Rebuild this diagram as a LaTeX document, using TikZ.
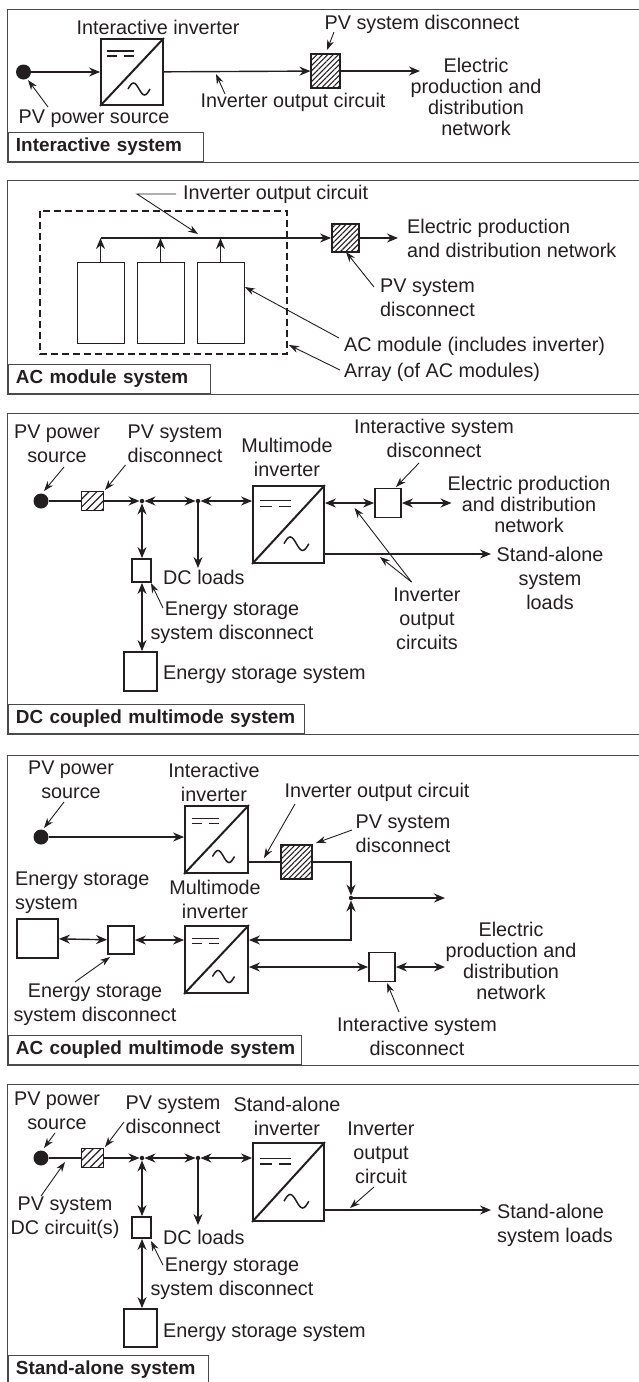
\documentclass[tikz,border=0pt]{standalone}
\usepackage{fontspec}
\setmainfont{Liberation Sans}
\usetikzlibrary{calc,arrows.meta,patterns.meta}

\definecolor{inkblack}{HTML}{231F20}
\definecolor{framegray}{HTML}{4A4A4A}

% diagonal, DC bars and sine wave of an inverter block
\newcommand{\invmarks}[2]{
  \draw[line width=2pt] (#1.south west) -- (#1.north east);
  \begin{scope}[shift={(#1.center)},scale=#2]
    \draw[line width=1.2pt] (-25,-21) -- (2,-21);
    \draw[line width=1.2pt] (-25,-16) -- (-15,-16) (-8,-16) -- (2,-16);
    \draw[line width=1.5pt] (-4,17) sin (1.5,11) cos (7,17) sin (12.5,23) cos (18,17);
  \end{scope}
}

\begin{document}
\begin{tikzpicture}[
    x=1pt, y=-1pt,
    color=inkblack,
    lab/.style={font=\fontsize{19.8}{24}\selectfont, align=center, inner sep=0pt},
    labtight/.style={font=\fontsize{19.8}{21}\selectfont, align=center, inner sep=0pt},
    labl/.style={lab, align=left},
    sysframe/.style={draw=framegray, line width=1pt},
    tagbox/.style={draw=framegray, line width=0.9pt, anchor=south west, align=left, inner xsep=8pt,
                   inner ysep=0pt, minimum height=29pt, font=\fontsize{18.9}{20}\selectfont\bfseries},
    pvdot/.style={circle, fill=inkblack, minimum size=15pt, inner sep=0pt},
    jdot/.style={circle, fill=inkblack, minimum size=4.5pt, inner sep=0pt},
    box/.style={draw, line width=1.8pt, inner sep=0pt, fill=white},
    thinbox/.style={draw, line width=1pt, inner sep=0pt, fill=white},
    hatchbox/.style={draw, line width=1.8pt, inner sep=0pt,
                     pattern={Lines[angle=45,distance=3.8pt,line width=1.1pt]}, pattern color=inkblack},
    hatchsmall/.style={draw, line width=1pt, inner sep=0pt,
                     pattern={Lines[angle=45,distance=5.5pt,line width=1.2pt]}, pattern color=inkblack},
    wire/.style={line width=1.4pt, -{Stealth[length=11pt,width=9pt]}},
    wireb/.style={line width=1.4pt, {Stealth[length=11pt,width=9pt]}-{Stealth[length=11pt,width=9pt]}},
    wiren/.style={line width=1.4pt},
    lead/.style={line width=0.9pt, -{Stealth[length=10pt,width=7pt]}}
  ]
  \useasboundingbox (0,0) rectangle (639,1382);

  % Interactive system
  \draw[sysframe] (639,9) -- (7.5,9) -- (7.5,162) -- (639,162);
  \node[tagbox, text width=179pt] (aTag) at (7.5,162) {Interactive system};
  \node[pvdot] (aDot) at (23.5,72) {};
  \node[box, minimum width=62pt, minimum height=66pt] (aInv) at (132,72) {};
  \invmarks{aInv}{1}
  \node[hatchbox, minimum width=29pt, minimum height=34pt] (aSw) at (325.5,71) {};
  \coordinate (aOut) at (420,71);
  \draw[wire] (aDot) -- (aInv);
  \draw[wire] (aInv) -- (aSw);
  \draw[wire] (aSw) -- (aOut);
  \node[lab] (aInvT) at (158,27) {Interactive inverter};
  \node[lab] (aSwT) at (422,24) {PV system disconnect};
  \node[lab] (aCirT) at (293,102) {Inverter output circuit};
  \node[labtight] (aNetT) at (476,97) {Electric\\production and\\distribution\\network};
  \node[lab] (aSrcT) at (94,119) {PV power source};
  \coordinate (a1) at (334,32); \coordinate (a2) at (327,50);
  \coordinate (a3) at (225,94); \coordinate (a4) at (216,74);
  \coordinate (a5) at (48,107); \coordinate (a6) at (28,80);
  \draw[lead] (a1) -- (a2);
  \draw[lead] (a3) -- (a4);
  \draw[lead] (a5) -- (a6);

  % AC module system
  \draw[sysframe] (639,180) -- (7.5,180) -- (7.5,394) -- (639,394);
  \node[tagbox, text width=186pt] (bTag) at (7.5,394) {AC module system};
  \draw[line width=1.8pt, dash pattern=on 7pt off 4pt] (40,211) rectangle (287,354);
  \node[thinbox, minimum width=47pt, minimum height=81pt] (bMod1) at (100.5,302.5) {};
  \node[thinbox, minimum width=47pt, minimum height=81pt] (bMod2) at (160.5,302.5) {};
  \node[thinbox, minimum width=47pt, minimum height=81pt] (bMod3) at (220.5,302.5) {};
  \node[hatchbox, minimum width=27pt, minimum height=28pt] (bSw) at (345.5,238) {};
  \coordinate (bBus) at (bMod1.north |- bSw);
  \coordinate (bOut) at (398,238);
  \draw[wire] (bBus) -- (bSw);
  \draw[wire] (bSw) -- (bOut);
  \draw[wire] (bMod1) -- (bBus);
  \draw[wire] (bMod2) -- (bMod2.north |- bSw);
  \draw[wire] (bMod3) -- (bMod3.north |- bSw);
  \node[labl, anchor=west] (bCirT) at (183,194) {Inverter output circuit};
  \node[labl, anchor=west] (bNetT) at (407,238) {Electric production\\and distribution network};
  \node[labl, anchor=west] (bSwT) at (380,298) {PV system\\disconnect};
  \node[labl, anchor=west] (bModT) at (344,346) {AC module (includes inverter)};
  \node[labl, anchor=west] (bArrT) at (344,372) {Array (of AC modules)};
  \coordinate (b1) at (176,194); \coordinate (b2) at (137,194); \coordinate (b3) at (198,234);
  \coordinate (b4) at (374,287); \coordinate (b5) at (346,252);
  \coordinate (b6) at (339,338); \coordinate (b7) at (245,287);
  \coordinate (b8) at (340,370); \coordinate (b9) at (289,345);
  \draw[lead] (b1) -- (b2) -- (b3);
  \draw[lead] (b4) -- (b5);
  \draw[lead] (b6) -- (b7);
  \draw[lead] (b8) -- (b9);

  % DC coupled multimode system
  \draw[sysframe] (639,413) -- (7.5,413) -- (7.5,734) -- (639,734);
  \node[tagbox, text width=280pt] (cTag) at (7.5,734) {DC coupled multimode system};
  \node[pvdot] (cDot) at (41,501) {};
  \node[hatchsmall, minimum width=22pt, minimum height=19pt] (cSw) at (92.5,501) {};
  \node[jdot] (cJ1) at (142,501) {};
  \node[jdot] (cJ2) at (198,501) {};
  \node[box, minimum width=71pt, minimum height=77pt] (cInv) at (288.5,524.5) {};
  \invmarks{cInv}{1.13}
  \node[box, minimum width=19pt, minimum height=23pt] (cEsd) at (141.5,570.5) {};
  \node[box, minimum width=33pt, minimum height=39pt] (cEss) at (140.5,671.5) {};
  \node[box, minimum width=26pt, minimum height=29pt] (cIsd) at (388,503) {};
  \coordinate (cGrid) at (451.5,503);
  \coordinate (cLoads) at (491,554);
  \coordinate (cDc) at (198,568);
  \draw[wiren] (cDot) -- (cSw);
  \draw[wire] (cSw) -- (cJ1);
  \draw[wireb] (cJ1) -- (cJ2);
  \draw[wireb] (cJ2) -- (cInv.west |- cJ2);
  \draw[wireb] (cJ1) -- (cEsd.north -| cJ1);
  \draw[wireb] (cEsd.south -| cJ1) -- (cEss.north -| cJ1);
  \draw[wire] (cJ2) -- (cDc);
  \draw[wireb] (cInv.east |- cIsd) -- (cIsd);
  \draw[wireb] (cIsd) -- (cGrid);
  \draw[wire] (cInv.east |- cLoads) -- (cLoads);
  \node[lab] (cSrcT) at (57,444) {PV power\\source};
  \node[lab] (cSwT) at (175,444) {PV system\\disconnect};
  \node[lab] (cInvT) at (287,457.5) {Multimode\\inverter};
  \node[lab] (cIsdT) at (434,438.5) {Interactive system\\disconnect};
  \node[labtight] (cNetT) at (529,504) {Electric production\\and distribution\\network};
  \node[lab] (cLoadT) at (550,578) {Stand-alone\\system\\loads};
  \node[lab] (cCirT) at (427,619) {Inverter\\output\\circuits};
  \node[labl, anchor=west] (cDcT) at (163,577) {DC loads};
  \node[lab] (cEsdT) at (232,623) {Energy storage\\system disconnect};
  \node[labl, anchor=west] (cEssT) at (163,675) {Energy storage system};
  \coordinate (c1) at (64,467); \coordinate (c2) at (44,491);
  \coordinate (c3) at (125.5,465); \coordinate (c4) at (105,490);
  \coordinate (c5) at (419,463); \coordinate (c6) at (396,487);
  \coordinate (c7) at (411.5,582); \coordinate (c8) at (354.5,508); \coordinate (c9) at (380,557);
  \coordinate (c10) at (163,608); \coordinate (c11) at (151,583);
  \draw[lead] (c1) -- (c2);
  \draw[lead] (c3) -- (c4);
  \draw[lead] (c5) -- (c6);
  \draw[lead] (c7) -- (c8);
  \draw[lead] (c7) -- (c9);
  \draw[lead] (c10) -- (c11);

  % AC coupled multimode system
  \draw[sysframe] (639,755) -- (7.5,755) -- (7.5,1065) -- (639,1065);
  \node[tagbox, text width=277pt] (dTag) at (7.5,1065) {\mbox{AC coupled multimode system}};
  \node[pvdot] (dDot) at (41,837) {};
  \node[box, minimum width=63pt, minimum height=67pt] (dInvA) at (216.5,839.5) {};
  \invmarks{dInvA}{1}
  \node[box, minimum width=63pt, minimum height=67pt] (dInvB) at (216.5,959.5) {};
  \invmarks{dInvB}{1}
  \node[hatchbox, minimum width=31pt, minimum height=34pt] (dSw) at (296.5,862) {};
  \node[jdot] (dJ) at (351,898) {};
  \node[box, minimum width=41pt, minimum height=39pt] (dEss) at (37.5,938.5) {};
  \node[box, minimum width=26pt, minimum height=28pt] (dEsd) at (121,940) {};
  \node[box, minimum width=26pt, minimum height=29pt] (dIsd) at (382,967) {};
  \coordinate (dOut) at (445,898);
  \coordinate (dGrid) at (445,967);
  \coordinate (dUp) at (dJ |- dSw);
  \coordinate (dLow) at (dJ |- dEsd);
  \draw[wire] (dDot) -- (dInvA.west |- dDot);
  \draw[wiren] (dInvA.east |- dSw) -- (dSw);
  \draw[wire] (dSw) -- (dUp) -- (dJ);
  \draw[wire] (dJ) -- (dOut);
  \draw[wireb] (dInvB.east |- dEsd) -- (dLow) -- (dJ);
  \draw[wireb] (dEss) -- (dEsd);
  \draw[wireb] (dEsd) -- (dInvB.west |- dEsd);
  \draw[wireb] (dInvB.east |- dIsd) -- (dIsd);
  \draw[wireb] (dIsd) -- (dGrid);
  \node[lab] (dSrcT) at (71,780) {PV power\\source};
  \node[lab] (dInvAT) at (214,782) {Interactive\\inverter};
  \node[lab] (dCirT) at (377,792) {Inverter output circuit};
  \node[lab] (dSwT) at (403,834) {PV system\\disconnect};
  \node[labl, anchor=west] (dEssT) at (15,893) {Energy storage\\system};
  \node[lab] (dInvBT) at (215,899.5) {Multimode\\inverter};
  \node[labtight] (dNetT) at (511,961) {Electric\\production and\\distribution\\network};
  \node[lab] (dEsdT) at (95,1005) {Energy storage\\system disconnect};
  \node[lab] (dIsdT) at (417,1036) {Interactive system\\disconnect};
  \coordinate (d1) at (64,802); \coordinate (d2) at (44,828);
  \coordinate (d3) at (295,804); \coordinate (d4) at (264,858);
  \coordinate (d5) at (352,830); \coordinate (d6) at (316,843);
  \coordinate (d7) at (75,982); \coordinate (d8) at (110,957);
  \coordinate (d9) at (399,1012); \coordinate (d10) at (387,983);
  \draw[lead] (d1) -- (d2);
  \draw[lead] (d3) -- (d4);
  \draw[lead] (d5) -- (d6);
  \draw[lead] (d7) -- (d8);
  \draw[lead] (d9) -- (d10);

  % Stand-alone system
  \draw[sysframe] (639,1084) -- (7.5,1084) -- (7.5,1382);
  \node[tagbox, text width=184pt, minimum height=28pt, text depth=4pt] (eTag) at (7.5,1384) {Stand-alone system};
  \node[pvdot] (eDot) at (41,1158) {};
  \node[hatchsmall, minimum width=22pt, minimum height=19pt] (eSw) at (92.5,1158) {};
  \node[jdot] (eJ1) at (142,1158) {};
  \node[jdot] (eJ2) at (198,1158) {};
  \node[box, minimum width=71pt, minimum height=78pt] (eInv) at (288.5,1182) {};
  \invmarks{eInv}{1.13}
  \node[box, minimum width=19pt, minimum height=21pt] (eEsd) at (141.5,1227.5) {};
  \node[box, minimum width=33pt, minimum height=38pt] (eEss) at (140.5,1328) {};
  \coordinate (eLoads) at (491,1210);
  \coordinate (eDc) at (198,1225);
  \draw[wiren] (eDot) -- (eSw);
  \draw[wire] (eSw) -- (eJ1);
  \draw[wireb] (eJ1) -- (eJ2);
  \draw[wireb] (eJ2) -- (eInv.west |- eJ2);
  \draw[wireb] (eJ1) -- (eEsd.north -| eJ1);
  \draw[wireb] (eEsd.south -| eJ1) -- (eEss.north -| eJ1);
  \draw[wire] (eJ2) -- (eDc);
  \draw[wire] (eInv.east |- eLoads) -- (eLoads);
  \node[lab] (eSrcT) at (57,1110.5) {PV power\\source};
  \node[lab] (eSwT) at (173,1115) {PV system\\disconnect};
  \node[lab] (eInvT) at (287,1116) {Stand-alone\\inverter};
  \node[lab] (eCirT) at (381,1152.5) {Inverter\\output\\circuit};
  \node[lab] (eDcCirT) at (65,1218) {PV system\\DC circuit(s)};
  \node[labl, anchor=west] (eDcT) at (163,1237) {DC loads};
  \node[lab] (eEsdT) at (232,1278.5) {Energy storage\\system disconnect};
  \node[labl, anchor=west] (eEssT) at (163,1333) {Energy storage system};
  \node[labl, anchor=west] (eLoadT) at (497,1225) {Stand-alone\\system loads};
  \coordinate (e1) at (55,1133); \coordinate (e2) at (44,1148);
  \coordinate (e3) at (124,1122); \coordinate (e4) at (105,1147);
  \coordinate (e5) at (41,1196); \coordinate (e6) at (65,1162);
  \coordinate (e7) at (374,1187); \coordinate (e8) at (350,1208);
  \coordinate (e9) at (163,1265); \coordinate (e10) at (151,1241);
  \draw[lead] (e1) -- (e2);
  \draw[lead] (e3) -- (e4);
  \draw[lead] (e5) -- (e6);
  \draw[lead] (e7) -- (e8);
  \draw[lead] (e9) -- (e10);
\end{tikzpicture}
\end{document}
